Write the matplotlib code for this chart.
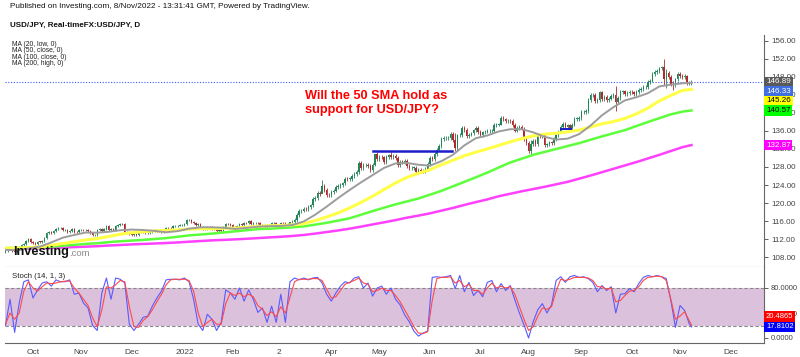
import matplotlib.pyplot as plt
import numpy as np
import pandas as pd

plt.rcParams['font.family'] = ['Liberation Sans', 'DejaVu Sans']

# daily closes (one row per trading week), Wed 15 Sep 2021 .. Tue 8 Nov 2022
closes = [
    109.37, 109.70, 109.93,
    109.37, 109.22, 109.79, 110.33, 110.74,
    110.99, 111.50, 111.98, 111.29, 111.05,
    110.93, 111.44, 111.42, 111.60, 112.23,
    113.29, 113.59, 113.25, 113.69, 114.21,
    114.34, 114.35, 114.01, 114.01, 113.51,
    113.69, 114.14, 113.59, 113.56, 113.95,
    114.00, 113.95, 114.07, 113.77, 113.40,
    112.86, 112.91, 113.97, 114.15, 113.87,
    114.14, 114.81, 114.10, 114.29, 113.99,
    114.88, 115.12, 115.37, 115.35, 113.39,
    113.47, 113.15, 112.79, 113.13, 112.80,
    113.46, 113.53, 113.48, 113.38, 113.42,
    113.51, 113.73, 114.06, 113.71, 113.70,
    113.63, 114.09, 114.44, 114.42, 114.36,
    114.83, 114.84, 115.00, 115.08, 115.09,
    115.34, 116.12, 116.14, 115.83, 115.56,
    115.21, 115.33, 114.63, 114.18, 114.19,
    114.60, 114.58, 114.29, 114.13, 113.68,
    113.98, 113.87, 114.66, 115.35, 115.26,
    115.11, 114.66, 114.46, 114.97, 115.23,
    115.09, 115.59, 115.54, 116.05, 115.42,
    115.56, 115.57, 115.48, 114.95, 115.03,
    114.75, 115.07, 115.03, 115.52, 115.56,
    114.98, 114.89, 115.50, 115.45, 114.82,
    115.31, 115.67, 115.87, 116.15, 117.31,
    118.17, 118.32, 118.70, 118.59, 119.18,
    119.45, 120.84, 121.14, 122.33, 122.04,
    123.85, 122.84, 121.78, 121.70, 122.52,
    122.77, 123.58, 123.80, 123.96, 124.35,
    125.38, 125.37, 125.40, 126.04, 126.40,
    126.95, 128.91, 127.85, 128.36, 128.49,
    128.14, 127.24, 128.47, 130.85, 129.84,
    130.17, 130.13, 129.09, 130.22, 130.56,
    130.26, 130.45, 129.98, 128.39, 129.22,
    129.16, 129.36, 128.24, 127.80, 127.86,
    127.87, 126.82, 127.31, 127.15, 127.10,
    127.60, 128.69, 130.03, 129.82, 130.88,
    131.87, 132.63, 134.25, 134.38, 134.41,
    134.42, 135.43, 134.01, 132.20, 135.00,
    135.07, 136.66, 136.22, 134.94, 135.21,
    135.45, 136.12, 136.61, 135.72, 135.17,
    135.69, 135.87, 135.93, 136.02, 136.10,
    137.41, 137.43, 137.43, 138.96, 138.56,
    138.14, 138.21, 138.19, 137.35, 136.11,
    136.65, 136.93, 136.55, 134.25, 133.28,
    131.60, 133.16, 133.88, 133.00, 135.04,
    134.91, 135.03, 132.91, 133.01, 133.45,
    133.29, 134.21, 135.11, 135.87, 136.90,
    137.49, 136.81, 137.23, 136.56, 137.42,
    138.73, 138.74, 138.95, 140.18, 140.20,
    140.52, 142.82, 144.02, 144.09, 142.56,
    142.81, 144.57, 143.18, 143.49, 142.92,
    143.20, 143.74, 144.09, 142.38, 143.31,
    144.73, 144.78, 144.15, 144.46, 144.74,
    144.57, 144.13, 144.60, 145.09, 145.37,
    145.73, 145.81, 146.83, 147.20, 148.73,
    149.03, 149.25, 149.89, 150.13, 147.66,
    148.98, 148.02, 146.39, 146.28, 147.45,
    148.71, 148.16, 147.93, 148.27, 146.61,
    146.66, 146.89,
]

# candles with long wicks: bar -> (high, low)
big_wicks = {
    52: (115.52, 113.05), 138: (125.09, 122.40), 161: (130.90, 128.30),
    168: (131.35, 129.80), 196: (135.60, 131.50), 216: (139.39, 137.40),
    229: (133.90, 130.41), 266: (145.90, 140.35), 287: (151.94, 146.23),
    288: (149.70, 145.50), 291: (147.10, 145.10), 297: (148.40, 146.20),
}

# moving averages read every 5 bars
ma_bars = list(range(0, 300, 5)) + [299]
ma20_low = [
    109.6, 109.5, 109.9, 110.3, 111.25, 112.3, 112.9, 113.45, 113.4, 113.6,
    113.95, 114.1, 114.0, 113.8, 113.5, 113.75, 114.3, 114.6, 114.6, 114.5,
    114.25, 114.45, 114.75, 114.85, 114.9, 115.1, 115.9, 117.4, 119.2, 121.1,
    122.9, 124.6, 126.2, 127.8, 128.8, 128.9, 128.5, 128.3, 129.3, 130.7,
    132.8, 134.4, 135.0, 135.9, 136.4, 136.4, 135.7, 134.7, 134.1, 134.3,
    135.3, 137.2, 139.5, 141.3, 142.8, 143.5, 144.4, 145.9, 146.3, 146.6,
    146.7,
]
ma50_close = [
    109.97, 109.96, 110.1, 110.25, 110.6, 111.0, 111.4, 111.8, 112.1, 112.55,
    113.06, 113.4, 113.6, 113.8, 113.9, 114.0, 114.2, 114.3, 114.3, 114.4,
    114.4, 114.6, 114.8, 114.95, 115.0, 115.15, 115.4, 116.1, 116.9, 117.8,
    118.9, 120.15, 121.5, 123.0, 124.45, 125.7, 126.6, 127.4, 128.5, 129.5,
    130.5, 131.3, 132.0, 132.8, 133.6, 134.3, 134.9, 135.3, 135.5, 135.8,
    136.2, 136.9, 137.6, 138.1, 138.8, 139.8, 141.1, 142.7, 143.9, 145.0,
    145.26,
]
ma100_close = [
    110.0, 110.02, 110.05, 110.15, 110.3, 110.5, 110.7, 110.9, 111.06, 111.3,
    111.5, 111.65, 111.8, 112.0, 112.2, 112.5, 112.8, 113.0, 113.2, 113.45,
    113.7, 113.95, 114.2, 114.3, 114.45, 114.6, 114.8, 115.2, 115.6, 116.1,
    116.6, 117.4, 118.2, 118.95, 119.7, 120.35, 121.0, 121.85, 122.7, 123.7,
    124.7, 125.7, 126.75, 127.9, 129.0, 129.85, 130.7, 131.35, 132.0, 132.65,
    133.3, 134.05, 134.8, 135.5, 136.2, 137.1, 138.0, 138.85, 139.7, 140.3,
    140.57,
]
ma200_high = [
    109.75, 109.8, 109.85, 109.95, 110.0, 110.1, 110.2, 110.3, 110.4, 110.55,
    110.67, 110.8, 110.9, 111.0, 111.12, 111.23, 111.4, 111.55, 111.7, 111.8,
    111.92, 112.05, 112.2, 112.35, 112.5, 112.67, 112.9, 113.2, 113.55, 113.9,
    114.3, 114.75, 115.24, 115.7, 116.2, 116.74, 117.2, 117.7, 118.3, 118.9,
    119.56, 120.2, 120.8, 121.5, 122.05, 122.6, 123.1, 123.6, 124.15, 124.7,
    125.4, 126.1, 126.85, 127.6, 128.35, 129.1, 129.9, 130.7, 131.55, 132.4,
    132.87,
]

# stochastic (14, 1, 3) read every 2 bars
st_bars = list(range(0, 300, 2)) + [299]
stoch_k = [
    20, 62, 9, 56, 90, 93, 64, 77, 88, 90,
    83, 93, 90, 90, 93, 70, 72, 56, 48, 20,
    12, 72, 96, 62, 96, 94, 88, 22, 12, 22,
    33, 35, 51, 64, 75, 93, 94, 94, 93, 96,
    90, 62, 22, 12, 38, 30, 12, 25, 77, 72,
    62, 80, 59, 77, 62, 41, 48, 25, 51, 25,
    70, 25, 90, 96, 93, 96, 93, 96, 97, 88,
    70, 59, 72, 83, 90, 88, 96, 98, 80, 88,
    67, 80, 83, 70, 80, 62,
    53, 37, 26, 11, 3, 8, 11, 97, 98, 97,
    98, 100, 79, 100, 74, 89, 68, 76, 66, 89,
    92, 74, 87, 76, 84, 61, 40, 21, 0, 26,
    45, 55, 40, 53, 92, 98, 89, 98, 100, 97,
    98, 95, 89, 74, 84, 76, 82, 40, 70, 71,
    79, 74, 87, 97, 100, 98, 100, 98, 95, 60,
    17, 52, 44, 23, 17.81,
]
stoch_d = [
    22, 40, 30, 40, 75, 90, 80, 75, 82, 88,
    87, 88, 90, 91, 91, 80, 72, 62, 52, 32,
    18, 45, 82, 80, 85, 92, 90, 50, 18, 17,
    28, 34, 45, 58, 70, 85, 93, 94, 94, 94,
    92, 75, 40, 18, 25, 30, 22, 22, 55, 72,
    68, 72, 66, 70, 66, 52, 46, 36, 42, 34,
    50, 40, 65, 90, 94, 94, 94, 95, 95, 92,
    78, 64, 66, 76, 86, 89, 92, 96, 88, 86,
    74, 76, 80, 76, 76, 68,
    58, 45, 32, 18, 8, 7, 10, 60, 95, 97,
    97, 98, 88, 92, 82, 86, 76, 76, 70, 80,
    88, 80, 83, 80, 82, 70, 50, 30, 12, 18,
    35, 48, 46, 50, 75, 94, 92, 94, 97, 97,
    97, 96, 92, 82, 82, 78, 80, 58, 60, 68,
    75, 76, 82, 92, 97, 98, 99, 98, 92, 62,
    30, 35, 42, 28, 20.49,
]

month_labels = ['Oct', 'Nov', 'Dec', '2022', 'Feb', '2', 'Apr', 'May', 'Jun',
                'Jul', 'Aug', 'Sep', 'Oct', 'Nov', 'Dec']
month_starts = pd.to_datetime([
    '2021-10-01', '2021-11-01', '2021-12-01', '2022-01-01', '2022-02-01',
    '2022-03-01', '2022-04-01', '2022-05-01', '2022-06-01', '2022-07-01',
    '2022-08-01', '2022-09-01', '2022-10-01', '2022-11-01', '2022-12-01'])

price_labels = [(146.89, '#5a5a5a', 'white'), (146.33, '#3f6fe0', 'white'),
                (145.26, '#ffff00', 'black'), (140.57, '#00ff00', 'black'),
                (132.87, '#ff00ff', 'white')]
stoch_labels = [(17.8102, '#0000ff', 'white'), (20.4865, '#ff0000', 'white')]

# ---------------------------------------------------------------------------
dates = pd.bdate_range('2021-09-15', '2022-11-08')
future = pd.bdate_range('2022-11-09', '2023-01-31')
all_dates = dates.append(future)
tick_pos = [int(np.searchsorted(all_dates, d)) for d in month_starts]

c = np.array(closes)
o = np.concatenate([[109.20], c[:-1]])
n = len(c)
idx = np.arange(n)
pad = np.where(idx < 125, 0.22, 0.42)
hi = np.maximum(o, c) + pad
lo = np.minimum(o, c) - pad
for b, (h, l) in big_wicks.items():
    hi[b], lo[b] = h, l

fig = plt.figure(figsize=(8, 3.57), dpi=100)
W, H = 800, 357
ax = fig.add_axes([5 / W, 1 - 267 / H, 759 / W, 232 / H])
ax2 = fig.add_axes([5 / W, 1 - 343 / H, 759 / W, 76 / H])

up_col, dn_col = '#23845a', '#ad2b2b'
cols = np.where(c >= o, up_col, dn_col)
ax.vlines(idx, lo, hi, colors=cols, lw=0.6, zorder=2)
body_h = np.maximum(np.abs(c - o), 0.08)
ax.bar(idx, body_h, bottom=np.minimum(o, c), width=0.62, color=cols,
       linewidth=0, zorder=2)

ax.plot(ma_bars, ma200_high, color='#ff40ff', lw=1.8, zorder=3)
ax.plot(ma_bars, ma100_close, color='#5cff3a', lw=1.8, zorder=3)
ax.plot(ma_bars, ma50_close, color='#ffff47', lw=2.2, zorder=3)
ax.plot(ma_bars, ma20_low, color='#9c9c9c', lw=1.4, zorder=3)

# hand-drawn resistance line and small marker
ax.plot([160, 194.5], [131.55, 131.55], color='#1c1cc8', lw=1.8, zorder=4)
ax.plot([242, 246.5], [136.5, 136.5], color='#1c1cc8', lw=1.4, zorder=4)

ax.axhline(146.89, color='#3d5afe', lw=0.8, ls=(0, (1, 1.5)), zorder=1)

ax.set_xlim(-0.2, 330.6)
ax.set_ylim(105.78, 157.33)
ax.set_yticks(np.arange(108, 157, 4))
ax.yaxis.set_major_formatter(plt.FormatStrFormatter('%.2f'))
ax.yaxis.tick_right()
ax.tick_params(axis='y', labelsize=5.8, colors='#444444', length=3, width=0.6, pad=2)
ax.set_xticks([])
for s in ['top', 'left']:
    ax.spines[s].set_visible(False)
ax.spines['right'].set_color('#666666')
ax.spines['bottom'].set_color('#888888')
ax.spines['right'].set_linewidth(0.8)
ax.spines['bottom'].set_linewidth(0.8)

ax.text(305, 357 - 90, 'Will the 50 SMA hold as\nsupport for USD/JPY?',
        transform=None, color='#ff0000', fontsize=9.2, weight='bold',
        va='top', ha='left', linespacing=1.22)

# stochastic panel
ax2.axhspan(20, 80, color='#dcc1dc', lw=0, zorder=0)
ax2.axhline(80, color='#888888', lw=0.8, ls=(0, (3, 2)), zorder=1)
ax2.axhline(20, color='#888888', lw=0.8, ls=(0, (3, 2)), zorder=1)
ax2.plot(st_bars, stoch_k, color='#5a5aff', lw=0.8, zorder=2)
ax2.plot(st_bars, stoch_d, color='#ff4a4a', lw=0.8, zorder=3)
ax2.set_xlim(-0.2, 330.6)
ax2.set_ylim(-8, 113.6)
ax2.set_yticks([0, 40, 80])
ax2.yaxis.set_major_formatter(plt.FormatStrFormatter('%.4f'))
ax2.yaxis.tick_right()
ax2.tick_params(axis='y', labelsize=5.5, colors='#444444', length=3, width=0.6, pad=2)
ax2.set_xticks(tick_pos)
ax2.set_xticklabels(month_labels)
ax2.tick_params(axis='x', labelsize=6, colors='#444444', length=0, pad=4)
for s in ['top', 'left']:
    ax2.spines[s].set_visible(False)
ax2.spines['right'].set_color('#666666')
ax2.spines['bottom'].set_color('#666666')
ax2.spines['right'].set_linewidth(0.8)
ax2.spines['bottom'].set_linewidth(0.8)
ax2.text(12, 357 - 277, 'Stoch (14, 1, 3)', transform=None, fontsize=5.6,
         color='#222222', va='center')

fig.canvas.draw()


def value_boxes(axis, items, fmt, gap, downward, size):
    prev = None
    for val, bg, fg in items:
        y = axis.transData.transform((0, val))[1]
        if prev is not None:
            y = min(y, prev - gap) if downward else max(y, prev + gap)
        prev = y
        fig.text(766 / W, y / H, fmt % val, fontsize=size, color=fg,
                 va='center', ha='left',
                 bbox=dict(boxstyle='square,pad=0.22', fc=bg, ec='none'))


value_boxes(ax, price_labels, '%.2f', 9.5, True, 5.8)
value_boxes(ax2, stoch_labels, '%.4f', 10.4, False, 5.5)

# header
fig.text(10 / W, 1 - 7 / H,
         'Published on Investing.com, 8/Nov/2022 - 13:31:41 GMT, Powered by TradingView.',
         fontsize=5.9, color='#111111', va='center')
fig.text(10 / W, 1 - 25 / H, 'USD/JPY, Real-timeFX:USD/JPY, D', fontsize=5.8,
         weight='bold', color='#111111', va='center')
for i, t in enumerate(['MA (20, low, 0)', 'MA (50, close, 0)',
                       'MA (100, close, 0)', 'MA (200, high, 0)']):
    fig.text(12 / W, 1 - (44.5 + 6.4 * i) / H, t, fontsize=4.9,
             color='#222222', va='center')

# watermark logo
logo = fig.text(13 / W, 1 - 252 / H, 'Investing', fontsize=9.2, weight='bold',
                color='#111111', va='center', zorder=10)
fig.canvas.draw()
lx = logo.get_window_extent().x1
fig.text(lx / W, 1 - 253.5 / H, '.com', fontsize=6.8, color='#8a8a8a',
         va='center', zorder=10)

fig.savefig('out.png', dpi=100)
